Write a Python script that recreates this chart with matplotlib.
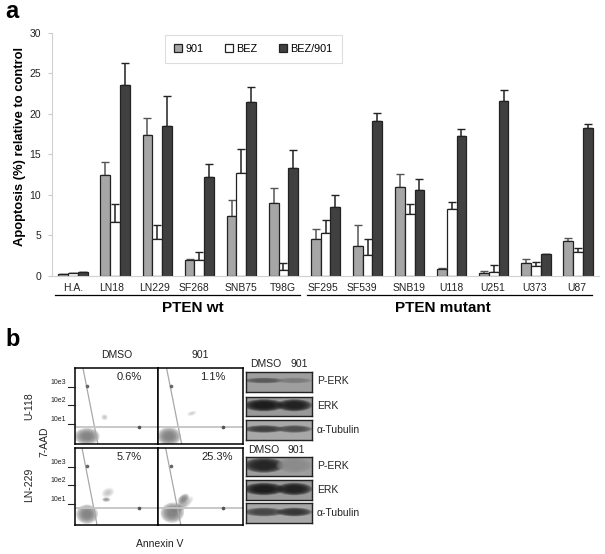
import matplotlib
matplotlib.use('Agg')
import numpy as np
import matplotlib.pyplot as plt
from matplotlib.patches import Ellipse

plt.rcParams['font.family'] = ['Liberation Sans', 'DejaVu Sans']

cell_lines = ['H.A.', 'LN18', 'LN229', 'SF268', 'SNB75', 'T98G', 'SF295',
              'SF539', 'SNB19', 'U118', 'U251', 'U373', 'U87']
drug_901 = [0.15, 12.4, 17.4, 1.9, 7.3, 9.0, 4.5, 3.7, 11.0, 0.8, 0.35, 1.6, 4.3]
drug_901_top = [0.2, 14.05, 19.5, 2.0, 9.4, 10.8, 5.8, 6.2, 12.5, 0.95, 0.6, 2.05, 4.7]
drug_bez = [0.25, 6.6, 4.5, 1.9, 12.7, 0.7, 5.3, 2.5, 7.6, 8.2, 0.45, 1.15, 2.9]
drug_bez_top = [0.3, 8.9, 6.25, 2.85, 15.6, 1.55, 6.9, 4.55, 8.9, 9.05, 1.25, 1.7, 3.45]
drug_both = [0.4, 23.6, 18.5, 12.2, 21.5, 13.3, 8.5, 19.1, 10.6, 17.2, 21.6, 2.6, 18.2]
drug_both_top = [0.45, 26.3, 22.2, 13.8, 23.3, 15.5, 10.0, 20.15, 12.0, 18.1, 22.95, 2.65, 18.7]
y_ticks = [0, 5, 10, 15, 20, 25, 30]

# flow panels: gate percent, clouds as (x, y, w, h, angle, darkness) in panel fractions
flow_percent = ['0.6%', '1.1%', '5.7%', '25.3%']
flow_clouds = [
    [(0.15, 0.10, 0.30, 0.22, 0, 1.0), (0.36, 0.35, 0.08, 0.08, 40, 0.25)],
    [(0.13, 0.10, 0.28, 0.24, 0, 1.0), (0.40, 0.40, 0.12, 0.06, 20, 0.2)],
    [(0.15, 0.14, 0.26, 0.25, 0, 1.0), (0.38, 0.33, 0.10, 0.06, 0, 0.6), (0.40, 0.42, 0.16, 0.12, 30, 0.25)],
    [(0.17, 0.16, 0.28, 0.26, 20, 1.0), (0.30, 0.34, 0.16, 0.10, 45, 0.8), (0.29, 0.26, 0.32, 0.12, 40, 0.4)],
]
flow_ticks = ['10e3', '10e2', '10e1']

# blots: label, background grey, band darkness DMSO, band darkness 901, band height
blot_rows = [
    ('P-ERK', 0.62, 0.45, 0.22, 0.22),
    ('ERK', 0.60, 0.85, 0.82, 0.50),
    ('\u03b1-Tubulin', 0.66, 0.65, 0.55, 0.30),
    ('P-ERK', 0.62, 0.80, 0.12, 0.62),
    ('ERK', 0.60, 0.85, 0.82, 0.50),
    ('\u03b1-Tubulin', 0.66, 0.60, 0.70, 0.35),
]

W, H = 605, 554
fig = plt.figure(figsize=(W / 100, H / 100), dpi=100)


def px_axes(l, t, r, b):
    return fig.add_axes([l / W, 1 - b / H, (r - l) / W, (b - t) / H])


# panel a
ax = px_axes(52, 33, 599, 275.5)
x = np.arange(len(cell_lines))
bw = 0.232
series = [(drug_901, drug_901_top, '#a6a6a6', '#555555'),
          (drug_bez, drug_bez_top, 'white', '#222222'),
          (drug_both, drug_both_top, '#404040', '#222222')]
names = ['901', 'BEZ', 'BEZ/901']
for i, (vals, tops, col, ecol) in enumerate(series):
    pos = x + (i - 1) * bw
    ax.bar(pos, vals, bw, color=col, edgecolor='#222222', linewidth=0.9, label=names[i], zorder=2)
    ax.errorbar(pos, vals, yerr=[np.zeros(len(vals)), np.array(tops) - np.array(vals)], fmt='none',
                ecolor=ecol, elinewidth=1.1, capsize=3, capthick=1.0, zorder=1)
ax.set_xlim(-0.5, 12.5)
ax.set_ylim(0, 30)
ax.set_yticks(y_ticks)
ax.set_xticks(x)
ax.set_xticklabels([])
ax.tick_params(axis='x', length=0)
ax.tick_params(axis='y', labelsize=7.5, length=3, color='#cccccc', labelcolor='#222222', pad=5)
for s in ['top', 'right']:
    ax.spines[s].set_visible(False)
for s in ['left', 'bottom']:
    ax.spines[s].set_color('#d0d0d0')
ax.set_ylabel('')
leg = ax.legend(loc='upper left', bbox_to_anchor=(0.206, 0.992), ncol=3, fontsize=7.8, frameon=True,
                fancybox=False, edgecolor='#dddddd', framealpha=1, handlelength=0.75, handleheight=0.75,
                columnspacing=2.0, handletextpad=0.3, borderpad=0.85, borderaxespad=0)
leg.get_frame().set_linewidth(0.8)

# overlay in pixel coordinates for labels and group lines
ov = fig.add_axes([0, 0, 1, 1], zorder=10)
ov.set_xlim(0, W)
ov.set_ylim(H, 0)
ov.axis('off')
label_px = [73, 112, 155, 194, 241, 283, 323, 362, 409, 451, 493, 535, 577]
for lab, xp in zip(cell_lines, label_px):
    ov.text(xp, 288, lab, fontsize=7.5, ha='center', va='center', color='#222222')
ov.text(20, 146.5, 'Apoptosis (%) relative to control', fontsize=9.4, fontweight='bold',
        rotation=90, ha='center', va='center')
ov.text(5, 11, 'a', fontsize=17, fontweight='bold', ha='left', va='center')
ov.text(5, 339, 'b', fontsize=17, fontweight='bold', ha='left', va='center')
ov.plot([55, 300], [295, 295], color='black', lw=0.9)
ov.plot([307, 592], [295, 295], color='black', lw=0.9)
ov.text(193, 308, 'PTEN wt', fontsize=11, fontweight='bold', ha='center', va='center')
ov.text(443, 308, 'PTEN mutant', fontsize=11, fontweight='bold', ha='center', va='center')

# panel b flow plots
flow_boxes = [(74.5, 367.5, 158, 444), (158, 367.5, 242.5, 444),
              (74.5, 448, 158, 525), (158, 448, 242.5, 525)]
flow_ypx = [[386.5, 405, 423.5], [386.5, 405, 423.5], [466.5, 485, 503.5], [466.5, 485, 503.5]]
for k, box in enumerate(flow_boxes):
    a = px_axes(*box)
    a.set_xlim(0, 1)
    a.set_ylim(0, 1)
    a.set_xticks([])
    a.set_yticks([])
    for s in a.spines.values():
        s.set_linewidth(1.1)
    hy = 0.22
    tx = [0.10, 0.28] if k < 2 else [0.09, 0.27]
    a.plot(tx, [1.0, 0.0], color='#a8a8a8', lw=0.9)
    a.axhline(hy, color='#c4c4c4', lw=1.3)
    a.plot([0.77], [hy], 'o', ms=1.6, color='#555555')
    a.plot([0.15], [0.76], 'o', ms=1.6, color='#666666')
    for cx, cy, w, h, ang, dark in flow_clouds[k]:
        for f in np.linspace(1, 0.35, 6):
            a.add_patch(Ellipse((cx, cy), w * f, h * f, angle=ang, color='#777777', alpha=0.3 * dark, lw=0))
    a.text(0.65 if k != 3 else 0.70, 0.88, flow_percent[k], fontsize=8, ha='center', va='center', color='#222222')
    if k % 2 == 0:
        for lab, yp in zip(flow_ticks, flow_ypx[k]):
            ov.plot([68, 74.5], [yp, yp], color='#222222', lw=0.8)
            ov.text(66, yp - 4, lab, fontsize=5, ha='right', va='center', color='#222222')

ov.text(117, 355, 'DMSO', fontsize=7.5, ha='center', va='center', color='#222222')
ov.text(200, 355, '901', fontsize=7.5, ha='center', va='center', color='#222222')
ov.text(29, 406, 'U-118', fontsize=7.5, rotation=90, ha='center', va='center', color='#222222')
ov.text(44, 442, '7-AAD', fontsize=7.5, rotation=90, ha='center', va='center', color='#222222')
ov.text(29, 485, 'LN-229', fontsize=7.5, rotation=90, ha='center', va='center', color='#222222')
ov.text(160, 544, 'Annexin V', fontsize=7.5, ha='center', va='center', color='#222222')

# panel b blots
blot_boxes = [(371.5, 391.5), (396.5, 416), (420, 440), (456.5, 476), (480, 500), (503, 523)]
for (label, bg, d1, d2, bh), (t, b) in zip(blot_rows, blot_boxes):
    a = px_axes(245.5, t, 311.5, b)
    a.set_xlim(0, 1)
    a.set_ylim(0, 1)
    a.set_xticks([])
    a.set_yticks([])
    a.set_facecolor(str(bg))
    for s in a.spines.values():
        s.set_linewidth(1.0)
        s.set_color('#222222')
    for cx, w, d in [(0.28, 0.50, d1), (0.74, 0.44, d2)]:
        for f in np.linspace(1.25, 0.5, 8):
            shade = bg * (1 - d)
            a.add_patch(Ellipse((cx, 0.55), w * f, bh * f, color=str(shade), alpha=0.30, lw=0))
    ov.text(317, (t + b) / 2, label, fontsize=7.5, ha='left', va='center', color='#222222')

ov.text(266, 364, 'DMSO', fontsize=7.5, ha='center', va='center', color='#222222')
ov.text(299, 364, '901', fontsize=7.5, ha='center', va='center', color='#222222')
ov.text(264, 450, 'DMSO', fontsize=7.5, ha='center', va='center', color='#222222')
ov.text(296, 450, '901', fontsize=7.5, ha='center', va='center', color='#222222')

fig.savefig('out.png', dpi=100)
